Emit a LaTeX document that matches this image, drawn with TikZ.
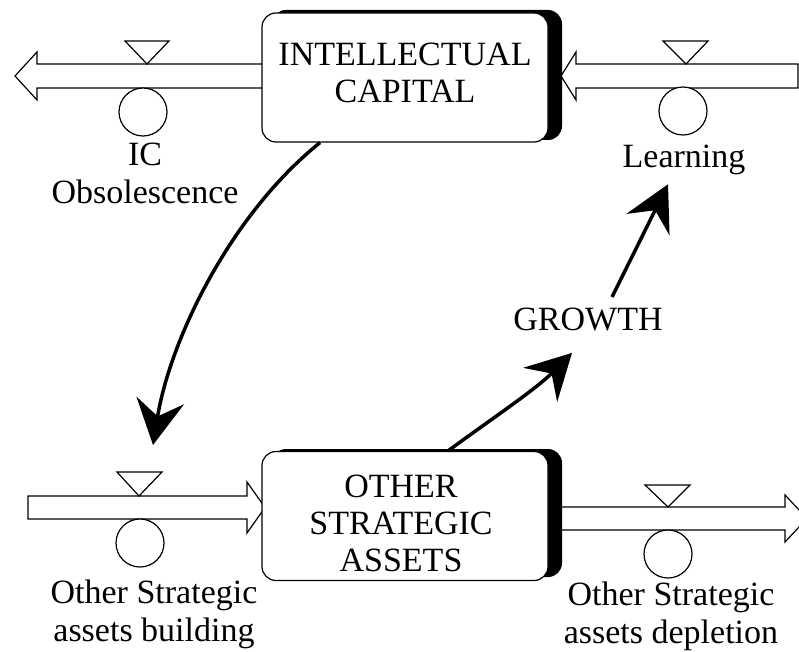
\documentclass[tikz,border=0pt]{standalone}
\usepackage{fontspec}
\setmainfont{Liberation Serif}
\usetikzlibrary{arrows.meta}
\begin{document}
\begin{tikzpicture}[x=1pt,y=-1pt,
  pipe/.style={draw, fill=white, line width=1.2pt, line join=miter},
  valve/.style={draw, fill=white, line width=1.2pt},
  stock/.style={draw, fill=white, line width=1.2pt, rounded corners=14pt, minimum width=286pt, minimum height=129pt, inner sep=0pt},
  shadow/.style={fill=black, rounded corners=14pt},
  lbl/.style={font=\fontsize{34}{38}\selectfont, align=center, inner sep=0pt, anchor=north},
  link/.style={line width=3.5pt, -{Stealth[length=45pt,width=48pt,inset=16pt]}}]
\useasboundingbox (0,0) rectangle (799,652);
\clip (0,0) rectangle (799,652);
\fill[white] (0,0) rectangle (799,652);

% pipes
\draw[pipe] (263,64) -- (37,64) -- (37,52) -- (15,76) -- (37,100) -- (37,88) -- (263,88) -- cycle;
\draw[pipe] (798,64) -- (576,64) -- (576,52) -- (561,76) -- (576,100) -- (576,88) -- (798,88) -- cycle;
\draw[pipe] (28,496) -- (247,496) -- (247,482) -- (265,507.5) -- (247,533) -- (247,519) -- (28,519) -- cycle;
\draw[pipe] (560,507) -- (785,507) -- (785,495) -- (807,518.5) -- (785,542) -- (785,530) -- (560,530) -- cycle;

% stocks
\fill[shadow] (272,10) rectangle (562,140);
\node[stock] (icbox) at (405,77.5) {};
\fill[shadow] (272,449) rectangle (562,577);
\node[stock] (osbox) at (405,516) {};

% valves
\draw[valve] (125,41) -- (169,41) -- (147,64) -- cycle;
\draw[valve] (663,41) -- (708,41) -- (686,64) -- cycle;
\draw[valve] (117,472) -- (162,472) -- (139,496) -- cycle;
\draw[valve] (645,485) -- (690,485) -- (668,507) -- cycle;
\coordinate (vbl) at (139,471);
\node[valve, circle, minimum size=48pt, inner sep=0pt] (ctl) at (143,112) {};
\node[valve, circle, minimum size=48pt, inner sep=0pt] (ctr) at (683,111) {};
\node[valve, circle, minimum size=48pt, inner sep=0pt] (cbl) at (140,543) {};
\node[valve, circle, minimum size=48pt, inner sep=0pt] (cbr) at (668,554) {};

% texts
\node[lbl, font=\fontsize{34}{37}\selectfont] (ictext) at (405,43) {INTELLECTUAL\\CAPITAL};
\node[lbl, font=\fontsize{34}{37}\selectfont] (ostext) at (401,475) {OTHER\\STRATEGIC\\ASSETS};
\node[lbl] (icobs) at (145,143) {IC\\Obsolescence};
\node[lbl] (learn) at (684,145) {Learning};
\node[lbl] (osb) at (154,580) {Other Strategic\\assets building};
\node[lbl] (osd) at (671,582) {Other Strategic\\assets depletion};
\node[lbl] (growth) at (588,308) {GROWTH};

% connectors
\draw[link] ([xshift=-85pt]icbox.south) .. controls (230,215) and (170,340) .. ([shift={(14,-26)}]vbl);
\draw[link] ([xshift=43pt]osbox.north) .. controls (490,420) and (535,390) .. ([shift={(-16,21.5)}]growth.south);
\draw[link] ([shift={(24,-11)}]growth.north) -- ([shift={(-16,9)}]learn.south);
\end{tikzpicture}
\end{document}
